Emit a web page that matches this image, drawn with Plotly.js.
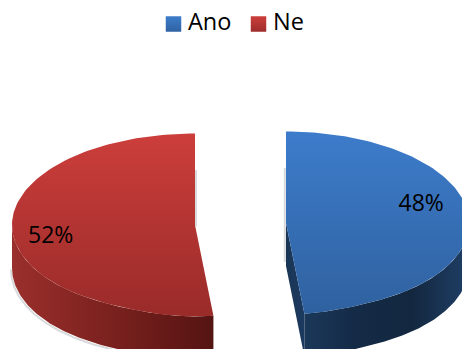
<!DOCTYPE html>
<html>
<head>
<meta charset="utf-8">
<script src="https://cdn.plot.ly/plotly-3.0.1.min.js"></script>
<style>html,body{margin:0;padding:0;background:#fff}#chart{width:462px;height:349px}</style>
</head>
<body>
<div id="chart"></div>
<script>
// Survey split shown as an exploded 3D-style pie
const categories = ['Ano', 'Ne'];
const shares = [48, 52];

const swatchTop = ['#3d7ccb', '#cc3e3b'];
const swatchBottom = ['#2f62a2', '#9d2c2a'];
const faceTop = ['#3d7ccb', '#cc3e3b'];
const faceBottom = ['#2f619f', '#992b29'];
const wallScale = [
  [[0, '#1f3f66'], [0.35, '#13273f'], [0.7, '#142b47'], [1, '#1b3859']],
  [[0, '#9a2f2c'], [0.5, '#7a211e'], [1, '#541412']]
];
const centerX = [286, 195];
const centerY = [223, 225];
const radiusX = 183;
const radiusY = 91.5;
const depth = 43;
const legendSwatchX = [173.5, 258.5];
const legendY = 24;
const legendTextGap = 14.5;

const total = shares.reduce((a, b) => a + b, 0);
const angleOf = share => share / total * 2 * Math.PI;

// Point on the rim of slice i at clockwise angle t from twelve o'clock.
// The nearest part of the rim pinches inward slightly, as a perspective view does.
function rim(i, t, drop) {
  const c = Math.cos(t);
  const pinch = c < 0 ? 1 - 0.21 * Math.pow(c, 8) : 1;
  return [centerX[i] + radiusX * Math.sin(t) * pinch, centerY[i] - radiusY * c + drop];
}
function arc(i, from, to, drop) {
  const pts = [];
  const steps = 120;
  for (let k = 0; k <= steps; k++) pts.push(rim(i, from + (to - from) * k / steps, drop));
  return pts;
}
function polyTrace(pts, fillgradient) {
  return {
    type: 'scatter', mode: 'lines', x: pts.map(p => p[0]), y: pts.map(p => p[1]),
    fill: 'toself', fillgradient, line: {width: 0}, showlegend: false, hoverinfo: 'skip'
  };
}
function vertical(i) {
  return {type: 'vertical', start: centerY[i] - radiusY, stop: centerY[i] + radiusY,
          colorscale: [[0, faceTop[i]], [1, faceBottom[i]]]};
}
function horizontal(scale, a, b) {
  return {type: 'horizontal', start: a, stop: b, colorscale: scale};
}
function softEdge(pts) {
  return {type: 'scatter', mode: 'lines', x: pts.map(p => p[0]), y: pts.map(p => p[1]),
          line: {color: '#d8dadb', width: 2}, showlegend: false, hoverinfo: 'skip'};
}

const sweep = angleOf(shares[0]);
const traces = [];

// Shadow fringes beside the cut edges and the lower rim
traces.push(softEdge([[284.8, 168], [284.8, 262]]));
traces.push(softEdge([[196, 170], [196, 226]]));
traces.push(softEdge(arc(1, 1.5 * Math.PI, 1.12 * Math.PI, depth + 1.5).map(p => [p[0] - 1, p[1]])));

// Blue slice: cut face, outer wall, top face
const blueApex = rim(0, sweep, 0);
traces.push(polyTrace(
  [[centerX[0], centerY[0]], blueApex, [blueApex[0], blueApex[1] + depth], [centerX[0], centerY[0] + depth]],
  horizontal([[0, '#1a3656'], [1, '#1c3a5f']], centerX[0], blueApex[0])));
const blueWall = arc(0, Math.PI / 2, sweep, 0).concat(arc(0, sweep, Math.PI / 2, depth));
traces.push(polyTrace(blueWall, horizontal(wallScale[0].slice().reverse().map(s => [1 - s[0], s[1]]), blueApex[0], centerX[0] + radiusX)));
traces.push(polyTrace([[centerX[0], centerY[0]]].concat(arc(0, 0, sweep, 0)), vertical(0)));

// Red slice: outer wall, top face
const redWall = arc(1, sweep, 1.5 * Math.PI, 0).concat(arc(1, 1.5 * Math.PI, sweep, depth));
traces.push(polyTrace(redWall, horizontal(wallScale[1], centerX[1] - radiusX, rim(1, sweep, 0)[0])));
traces.push(polyTrace([[centerX[1], centerY[1]]].concat(arc(1, sweep, 2 * Math.PI, 0)), vertical(1)));

// Percent labels sit along each slice's middle direction
const labelReach = [0.74, 0.79];
const labelShift = [-13.5, 8];
let start = 0;
shares.forEach((s, i) => {
  const mid = start + angleOf(s) / 2;
  start += angleOf(s);
  const t = rim(i, mid, 0);
  traces.push({
    type: 'scatter', mode: 'text', showlegend: false, hoverinfo: 'skip',
    x: [centerX[i] + (t[0] - centerX[i]) * labelReach[i]],
    y: [centerY[i] + (t[1] - centerY[i]) * labelReach[i] + labelShift[i]],
    text: [s + '%'], textposition: 'middle center',
    textfont: {family: 'Open Sans, sans-serif', size: 23, color: '#000'}
  });
});

// Key above the pie: shaded square swatches followed by category names
categories.forEach((name, i) => {
  traces.push({
    type: 'scatter', mode: 'markers', name, showlegend: false, hoverinfo: 'skip',
    x: [legendSwatchX[i]], y: [legendY],
    marker: {symbol: 'square', size: 15.5, color: swatchTop[i], line: {width: 0},
             gradient: {type: 'vertical', color: swatchBottom[i]}}
  });
  traces.push({
    type: 'scatter', mode: 'text', showlegend: false, hoverinfo: 'skip',
    x: [legendSwatchX[i] + legendTextGap], y: [legendY],
    text: [name], textposition: 'middle right',
    textfont: {family: 'Open Sans, sans-serif', size: 23.5, color: '#000'}
  });
});

Plotly.newPlot('chart', traces, {
  width: 462, height: 349,
  margin: {l: 0, r: 0, t: 0, b: 0},
  paper_bgcolor: '#fff', plot_bgcolor: '#fff',
  xaxis: {range: [0, 462], visible: false, fixedrange: true},
  yaxis: {range: [349, 0], visible: false, fixedrange: true},
  showlegend: false
}, {displayModeBar: false, staticPlot: true});
</script>
</body>
</html>
